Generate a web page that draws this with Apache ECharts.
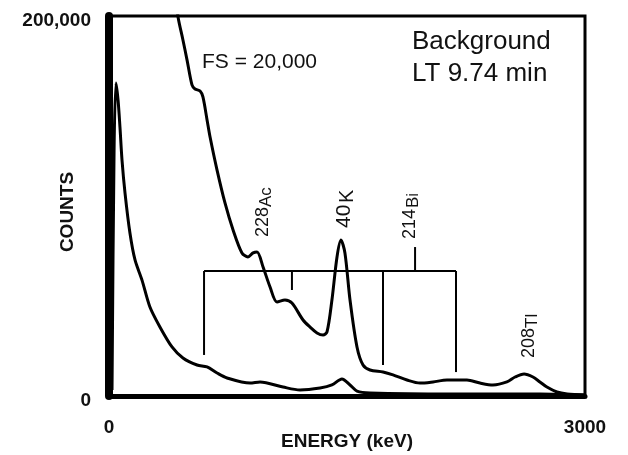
<!DOCTYPE html>
<html>
<head>
<meta charset="utf-8">
<script src="https://cdn.jsdelivr.net/npm/echarts@6/dist/echarts.min.js"></script>
<style>
  html, body { margin: 0; padding: 0; background: #fff; }
  #graph1 { width: 628px; height: 455px; }
</style>
</head>
<body>
<div id="graph1"></div>
<script>
// energy (keV), counts on the 200,000 full scale
var lowerEnergy = [19, 32, 44, 57, 69, 82, 101, 132, 164, 208, 258, 321, 397, 466, 555, 618, 681, 744, 889, 952, 1097, 1204, 1330, 1405, 1468, 1519, 1563, 1645, 2149, 2716, 3000];
var lowerCounts = [3200, 129500, 164700, 155800, 141600, 124200, 106800, 85800, 71600, 61000, 46800, 36300, 25800, 20000, 16300, 15300, 12100, 9500, 6800, 7400, 4700, 3200, 4200, 5800, 9000, 5800, 2600, 1600, 1000, 1000, 500];

// same spectrum drawn on the FS = 20,000 scale
var upperEnergy = [428, 435, 466, 492, 523, 542, 574, 592, 618, 637, 681, 731, 782, 838, 876, 908, 933, 971, 1015, 1059, 1109, 1153, 1223, 1267, 1311, 1349, 1374, 1405, 1437, 1462, 1487, 1519, 1563, 1601, 1645, 1727, 1790, 1878, 1960, 2042, 2130, 2212, 2256, 2338, 2420, 2508, 2559, 2616, 2672, 2716, 2760, 2823, 2887, 3000];
var upperCounts = [20600, 19950, 18740, 17680, 16370, 16160, 16050, 15740, 14530, 13630, 11890, 10160, 8740, 7530, 7320, 7530, 7580, 6790, 5740, 4950, 5050, 4890, 4000, 3630, 3320, 3210, 3370, 5050, 7320, 8210, 7530, 5050, 2580, 1630, 1370, 1260, 1110, 840, 680, 740, 840, 840, 840, 680, 580, 740, 1000, 1160, 1000, 740, 470, 210, 105, 50];

// bracket marking the peak regions: [x1, y1, x2, y2] in keV / counts
var bracketSegments = [
  [599, 65800, 2187, 65800],
  [599, 65800, 599, 21600],
  [1153, 65800, 1153, 55800],
  [1727, 65800, 1727, 16300],
  [2187, 65800, 2187, 12600],
  [1929, 65800, 1929, 78400]
];

var xTicks = [0, 3000];
var yTicks = [0, 200000];

function pairs(xs, ys) {
  var out = [];
  for (var i = 0; i < xs.length; i++) out.push([xs[i], ys[i]]);
  return out;
}

var myChart = echarts.init(document.getElementById("graph1"));
var font = "Liberation Sans";

var series = [
  {
    type: "line",
    data: pairs(lowerEnergy, lowerCounts),
    smooth: 0.3,
    symbol: "none",
    lineStyle: { color: "#000", width: 3 }
  },
  {
    type: "line",
    yAxisIndex: 1,
    data: pairs(upperEnergy, upperCounts),
    smooth: 0.3,
    symbol: "none",
    lineStyle: { color: "#000", width: 3 }
  }
];
bracketSegments.forEach(function (s) {
  series.push({
    type: "line",
    data: [[s[0], s[1]], [s[2], s[3]]],
    symbol: "none",
    silent: true,
    lineStyle: { color: "#000", width: 2 }
  });
});

// rotated isotope label: mass number then element symbol
function isoLabel(x, y, mass, sym, symShift, size) {
  return {
    type: "group",
    x: x,
    y: y,
    rotation: Math.PI / 2,
    children: [
      { type: "text", x: 0, y: 0, style: { text: mass, font: size + "px " + font, fill: "#111", textVerticalAlign: "middle" } },
      { type: "text", x: symShift, y: 3, style: { text: sym, font: (size - 1) + "px " + font, fill: "#111", textVerticalAlign: "middle" } }
    ]
  };
}

const option = {
  animation: false,
  backgroundColor: "#fff",
  grid: {
    left: 109,
    right: 43,
    top: 16,
    bottom: 59,
    containLabel: false,
    outerBoundsMode: "none",
    show: true,
    borderColor: "#000",
    borderWidth: 3
  },
  xAxis: {
    type: "value",
    min: xTicks[0],
    max: xTicks[1],
    interval: 3000,
    name: "ENERGY (keV)",
    nameLocation: "middle",
    nameGap: 36,
    nameMoveOverlap: false,
    nameTextStyle: { fontFamily: font, fontSize: 19, fontWeight: "bold", color: "#111" },
    axisLine: { lineStyle: { color: "#000", width: 5 } },
    axisTick: { show: false },
    splitLine: { show: false },
    axisLabel: {
      fontFamily: font, fontSize: 19, fontWeight: "bold", color: "#111", margin: 22,
      formatter: function (v) { return String(v); }
    }
  },
  yAxis: [
    {
      type: "value",
      min: yTicks[0],
      max: yTicks[1],
      interval: 200000,
      offset: 4,
      name: "COUNTS",
      nameLocation: "middle",
      nameGap: 28,
      nameRotate: 90,
      nameMoveOverlap: false,
      nameTextStyle: { fontFamily: font, fontSize: 19, fontWeight: "bold", color: "#111", padding: [0, 12, 0, 0] },
      axisLine: { lineStyle: { color: "#000", width: 8 } },
      axisTick: { show: false },
      splitLine: { show: false },
      axisLabel: {
        fontFamily: font, fontSize: 19, fontWeight: "bold", color: "#111", margin: 14,
        formatter: function (v) { return "{a|" + v.toLocaleString("en-US") + "}"; },
        rich: { a: { fontFamily: font, fontSize: 19, fontWeight: "bold", color: "#111", padding: [10, 0, 0, 0] } }
      }
    },
    {
      type: "value",
      min: 0,
      max: 20000,
      show: false,
      splitLine: { show: false }
    }
  ],
  graphic: [
    { type: "text", x: 202, y: 62, style: { text: "FS = 20,000", font: "21px " + font, fill: "#111", textVerticalAlign: "middle" } },
    { type: "text", x: 412, y: 42, style: { text: "Background", font: "26px " + font, fill: "#111", textVerticalAlign: "middle" } },
    { type: "text", x: 412, y: 74, style: { text: "LT 9.74 min", font: "26px " + font, fill: "#111", textVerticalAlign: "middle" } },
    isoLabel(263, 237, "228", "Ac", 30, 18),
    isoLabel(344, 228, "40", "K", 25, 21),
    isoLabel(410, 239, "214", "Bi", 31, 18),
    isoLabel(529, 358, "208", "Tl", 30, 18)
  ],
  series: series
};

myChart.setOption(option);
</script>
</body>
</html>
